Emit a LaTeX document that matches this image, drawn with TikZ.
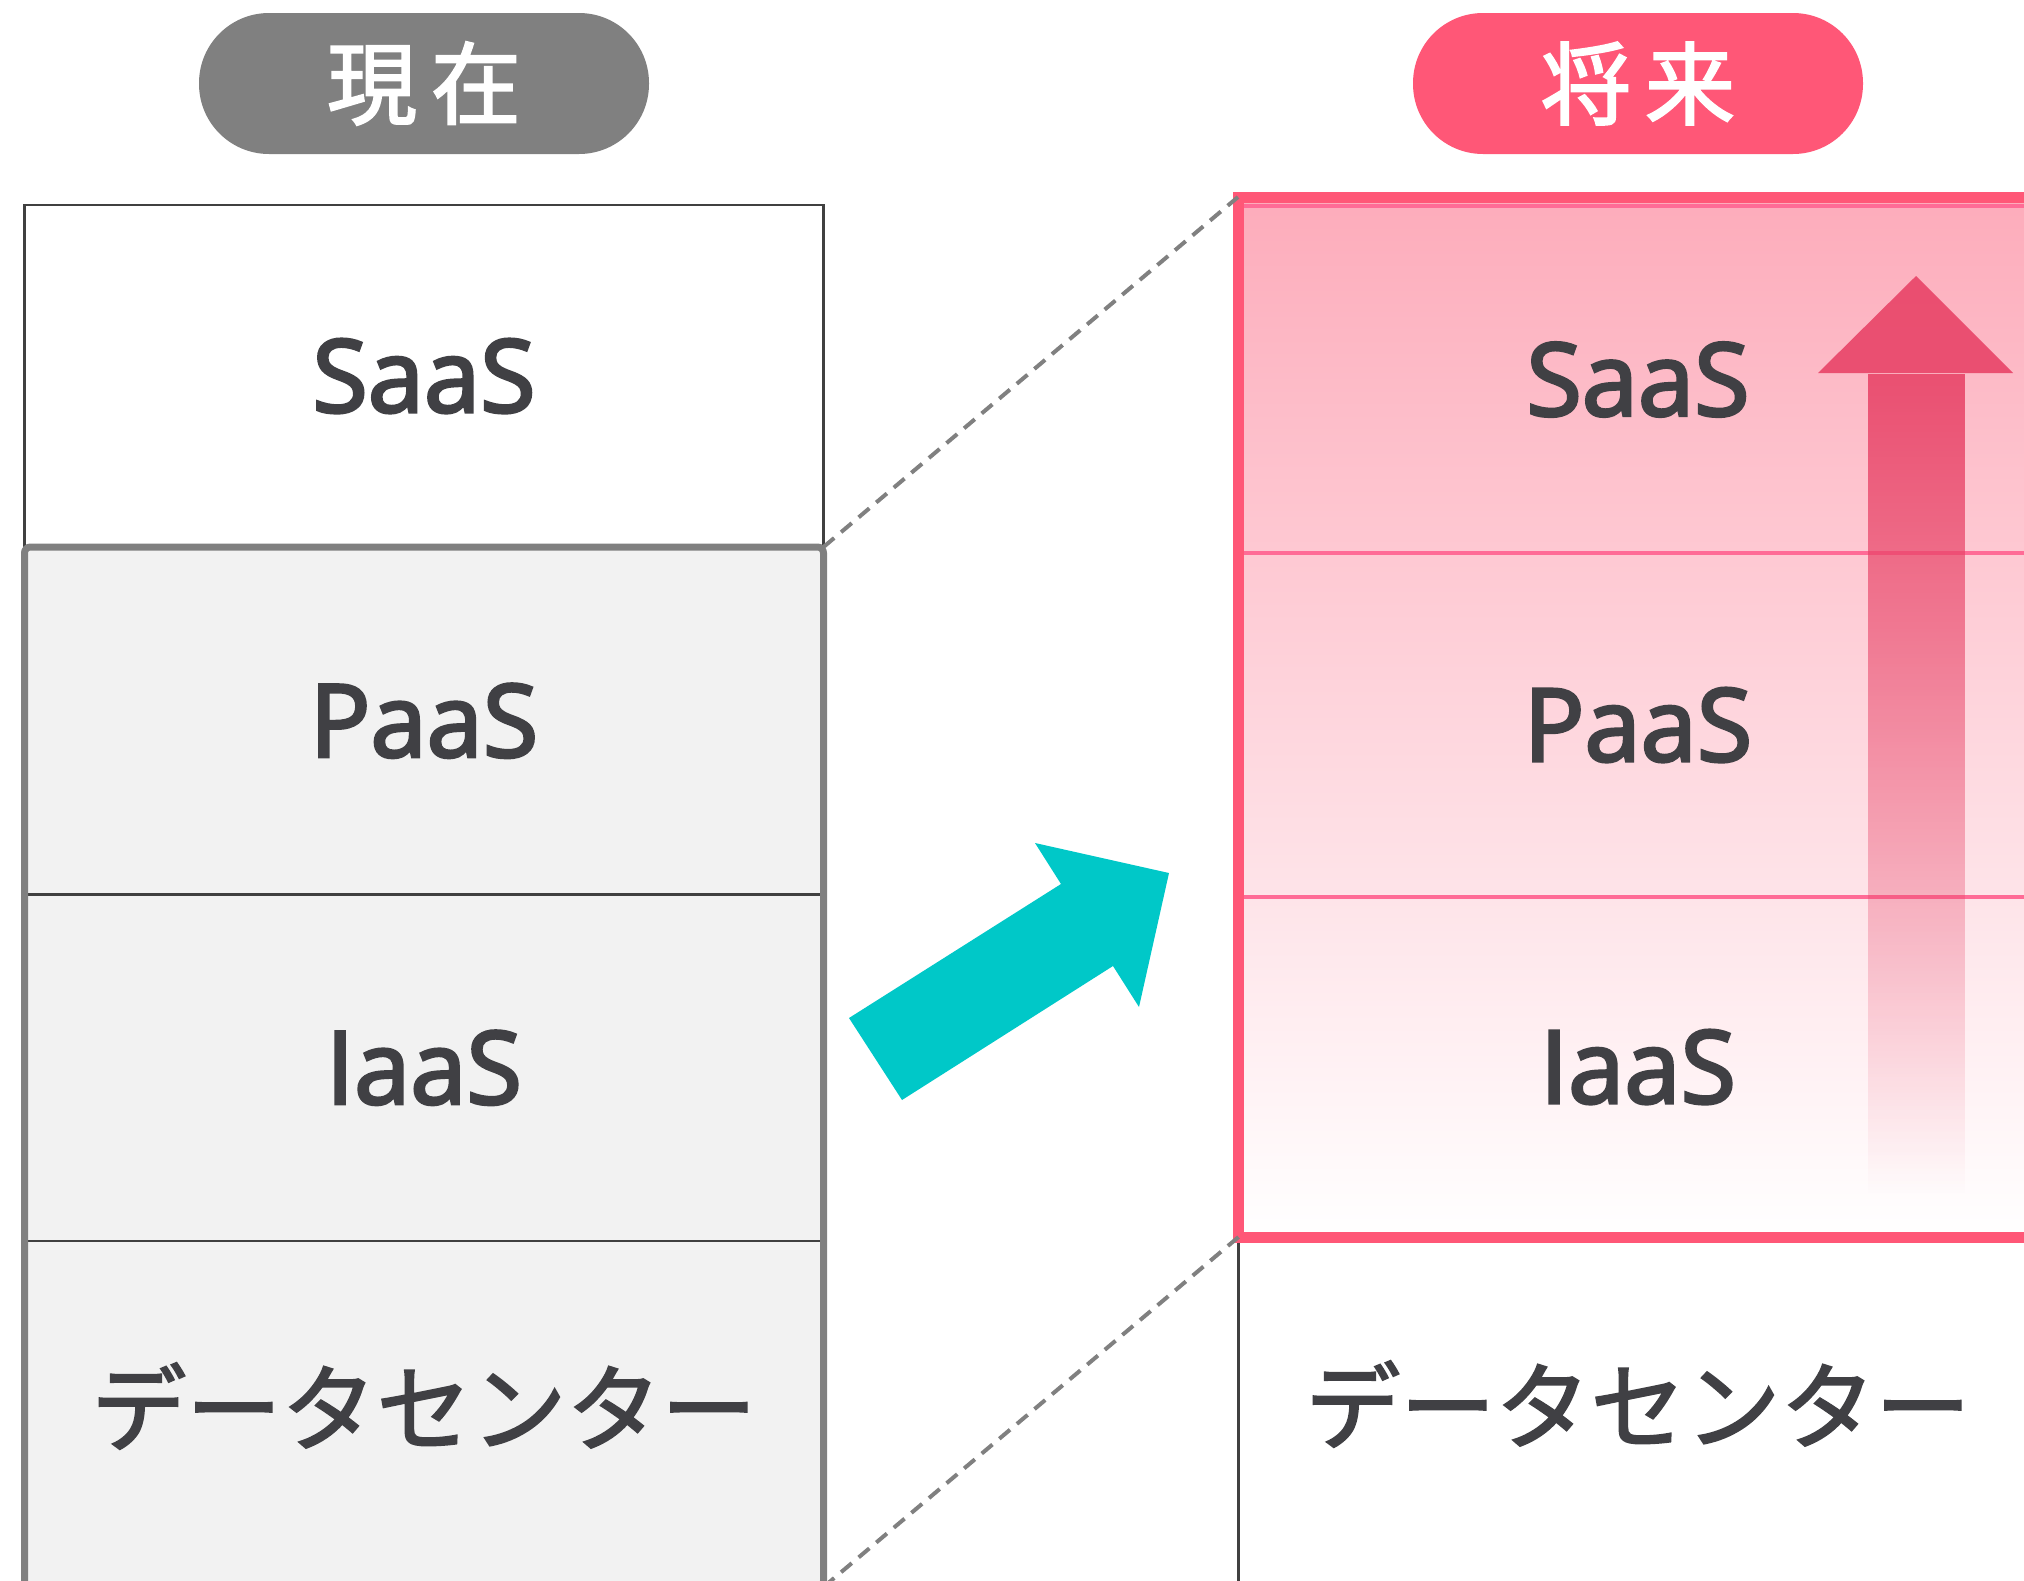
\documentclass[tikz,border=0pt]{standalone}
\usepackage{fontspec}
\setmainfont{Open Sans}[FakeBold=3]
\newfontfamily\jpfont{Noto Sans CJK JP}[FakeBold=2]
\newfontfamily\headfont{Noto Sans CJK JP}[FakeBold=2.2]
\usetikzlibrary{fadings}

\definecolor{inkgray}{HTML}{404044}
\definecolor{linegray}{HTML}{404040}
\definecolor{nowgray}{HTML}{808080}
\definecolor{panelgray}{HTML}{F2F2F2}
\definecolor{futpink}{RGB}{255,87,119}
\definecolor{futline}{RGB}{255,107,150}
\definecolor{futtop}{RGB}{253,172,187}
\definecolor{risered}{RGB}{232,68,104}
\definecolor{moveteal}{RGB}{0,200,200}

\tikzfading[name=fade down, top color=transparent!0, bottom color=transparent!100]

\tikzset{
  layer/.style={draw=linegray, line width=2.5pt, minimum width=799pt,
    inner sep=0pt, outer sep=0pt, text=inkgray,
    font=\fontsize{101}{106}\selectfont},
  jp/.style={font=\fontsize{95}{100}\selectfont\jpfont, yshift=8pt},
  futlayer/.style={layer, draw=futline, line width=4pt},
  pill/.style={minimum width=450pt, minimum height=141pt, rounded corners=70pt,
    text=white, font=\fontsize{90}{95}\selectfont\headfont},
  guide/.style={draw=nowgray, line width=4pt, dash pattern=on 14pt off 9pt}
}

\begin{document}
\begin{tikzpicture}[x=1pt, y=-1pt]
  \useasboundingbox (0,0) rectangle (2024,1580);
  \clip (0,0) rectangle (2024,1580);

  % headings
  \node[pill, fill=nowgray] (now) at (424,83.5) {現\hspace{14pt}在\hspace{31pt}};
  \node[pill, fill=futpink] (future) at (1638,83.5) {将\hspace{14pt}来\hspace{31pt}};

  % current stack
  \node[layer, fill=white, minimum height=342pt] (curS) at (424,376) {SaaS};
  \node[layer, fill=panelgray, minimum height=347.5pt] (curP) at (424,720.75) {PaaS};
  \node[layer, fill=panelgray, minimum height=346.5pt] (curI) at (424,1067.75) {IaaS};
  \node[layer, fill=panelgray, minimum height=346pt] (curD) at (424,1414) {};
  \node[jp, text=inkgray] (curDlabel) at (curD) {データセンター};
  \draw[nowgray, line width=7pt, rounded corners=6pt]
    (curP.north west) rectangle (curD.south east);

  % future stack
  \coordinate (futNW) at (1238,197);
  \coordinate (futSE) at (2038,1237);
  \fill[top color=futtop, bottom color=white] (futNW) rectangle (futSE);
  \node[futlayer, minimum height=347pt] (futS) at (1638,379.5) {SaaS};
  \node[futlayer, minimum height=344pt] (futP) at (1638,725) {PaaS};
  \node[futlayer, minimum height=340pt] (futI) at (1638,1067) {IaaS};
  \node[layer, fill=white, minimum height=350pt] (futD) at (1638,1412) {};
  \node[jp, text=inkgray] (futDlabel) at (futD) {データセンター};

  % rising arrow
  \fill[risered, opacity=0.9] (1818,373) -- (1916,276) -- (2013,373) -- cycle;
  \fill[risered, opacity=0.9, path fading=fade down]
    (1867.5,373) rectangle (1965,1193);
  \draw[futpink, line width=11pt] (futNW) rectangle (futI.south east);

  % guides between the stacks
  \draw[guide] (curP.north east) -- (futNW);
  \draw[guide] (curD.south east) -- (futI.south west);

  % shift arrow
  \fill[moveteal] (849,1018) -- (1061,884) -- (1035,843) -- (1169,873)
    -- (1139,1007) -- (1113,966) -- (902,1100) -- cycle;
\end{tikzpicture}
\end{document}
